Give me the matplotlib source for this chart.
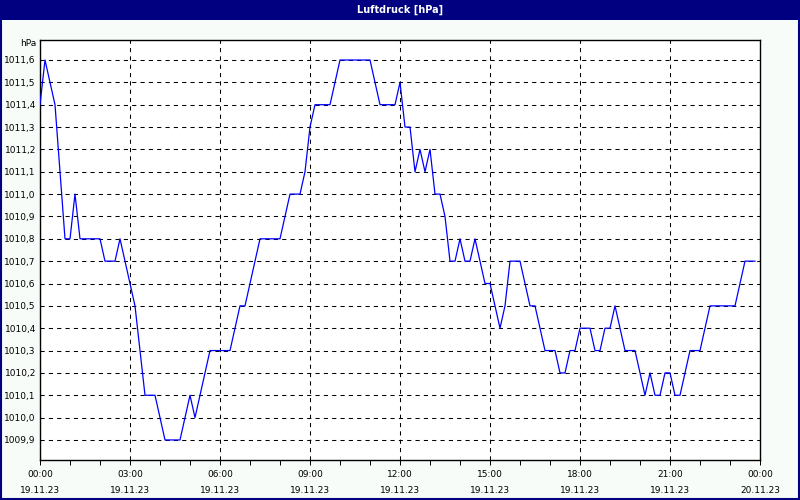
import numpy as np
import pandas as pd
import matplotlib
matplotlib.use("Agg")
import matplotlib.pyplot as plt
from matplotlib.patches import Rectangle
from matplotlib.ticker import MultipleLocator, FixedLocator

# 10-minute samples, 19.11.23 00:00 ... 23:50
pressure = [
    1011.4, 1011.6, 1011.5, 1011.4, 1011.1, 1010.8, 1010.8, 1011.0, 1010.8, 1010.8,
    1010.8, 1010.8, 1010.8, 1010.7, 1010.7, 1010.7, 1010.8, 1010.7, 1010.6, 1010.5,
    1010.3, 1010.1, 1010.1, 1010.1, 1010.0, 1009.9, 1009.9, 1009.9, 1009.9, 1010.0,
    1010.1, 1010.0, 1010.1, 1010.2, 1010.3, 1010.3, 1010.3, 1010.3, 1010.3, 1010.4,
    1010.5, 1010.5, 1010.6, 1010.7, 1010.8, 1010.8, 1010.8, 1010.8, 1010.8, 1010.9,
    1011.0, 1011.0, 1011.0, 1011.1, 1011.3, 1011.4, 1011.4, 1011.4, 1011.4, 1011.5,
    1011.6, 1011.6, 1011.6, 1011.6, 1011.6, 1011.6, 1011.6, 1011.5, 1011.4, 1011.4,
    1011.4, 1011.4, 1011.5, 1011.3, 1011.3, 1011.1, 1011.2, 1011.1, 1011.2, 1011.0,
    1011.0, 1010.9, 1010.7, 1010.7, 1010.8, 1010.7, 1010.7, 1010.8, 1010.7, 1010.6,
    1010.6, 1010.5, 1010.4, 1010.5, 1010.7, 1010.7, 1010.7, 1010.6, 1010.5, 1010.5,
    1010.4, 1010.3, 1010.3, 1010.3, 1010.2, 1010.2, 1010.3, 1010.3, 1010.4, 1010.4,
    1010.4, 1010.3, 1010.3, 1010.4, 1010.4, 1010.5, 1010.4, 1010.3, 1010.3, 1010.3,
    1010.2, 1010.1, 1010.2, 1010.1, 1010.1, 1010.2, 1010.2, 1010.1, 1010.1, 1010.2,
    1010.3, 1010.3, 1010.3, 1010.4, 1010.5, 1010.5, 1010.5, 1010.5, 1010.5, 1010.5,
    1010.6, 1010.7, 1010.7, 1010.7,
]
times = pd.date_range("2023-11-19 00:00", periods=len(pressure), freq="10min")
hours = (times - times[0]).total_seconds() / 3600.0

x_ticks = [0, 3, 6, 9, 12, 15, 18, 21, 24]
x_labels = ["00:00\n19.11.23", "03:00\n19.11.23", "06:00\n19.11.23", "09:00\n19.11.23",
            "12:00\n19.11.23", "15:00\n19.11.23", "18:00\n19.11.23", "21:00\n19.11.23",
            "00:00\n20.11.23"]
y_ticks = [1009.9, 1010.0, 1010.1, 1010.2, 1010.3, 1010.4, 1010.5, 1010.6, 1010.7, 1010.8,
           1010.9, 1011.0, 1011.1, 1011.2, 1011.3, 1011.4, 1011.5, 1011.6]
title = "Luftdruck [hPa]"
unit = "hPa"

BG = "#f8fcf8"
NAVY = "#000080"
FONT = "DejaVu Sans"
FS = 6.5

fig = plt.figure(figsize=(8, 5), dpi=100, facecolor=BG)

# title bar and frame
fig.add_artist(Rectangle((0, 1 - 20 / 500), 1, 20 / 500, transform=fig.transFigure,
                         facecolor=NAVY, edgecolor="none", zorder=0))
fig.add_artist(Rectangle((1 / 800, 1 / 500), 798 / 800, 498 / 500, transform=fig.transFigure,
                         facecolor="none", edgecolor=NAVY, linewidth=1.5, zorder=5))
fig.text(0.5, 1 - 10 / 500, title, color="white", fontsize=7, fontweight="bold",
         ha="center", va="center", family=FONT)

ax = fig.add_axes([40 / 800, 40 / 500, 720 / 800, 420 / 500])
ax.set_facecolor("white")
ax.plot(hours, pressure, color="#0000ff", linewidth=0.9, zorder=3)

ax.set_xlim(0, 24)
ax.set_ylim(1011.6 - 400 / 223.5, 1011.6 + 20 / 223.5)

ax.xaxis.set_major_locator(FixedLocator(x_ticks))
ax.set_xticklabels(x_labels, fontsize=FS, family=FONT, linespacing=2.0)
ax.xaxis.set_minor_locator(MultipleLocator(1))
ax.tick_params(axis="x", which="both", direction="out", length=3.5, width=0.7,
               color="black", pad=4)
ax.yaxis.set_major_locator(FixedLocator(y_ticks))
ax.set_yticklabels([f"{v:.1f}".replace(".", ",") for v in y_ticks], fontsize=FS, family=FONT)
ax.tick_params(axis="y", which="both", length=0, pad=3)

ax.grid(True, which="major", color="black", linestyle=(0, (4, 4)), linewidth=0.75)
ax.set_axisbelow(True)
for s in ax.spines.values():
    s.set_color("black")
    s.set_linewidth(1.0)

fig.text(36 / 800, 1 - 44 / 500, unit, fontsize=FS, family=FONT, ha="right", va="center")

fig.savefig("out.png", dpi=100, facecolor=BG)
